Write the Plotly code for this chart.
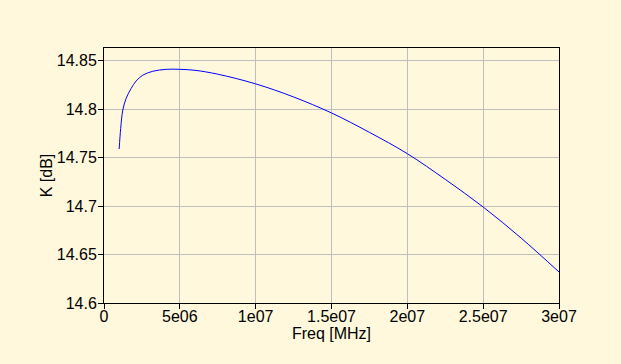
import plotly.graph_objects as go

# Data
freq = [1.0e6, 1.1e6, 1.24e6, 1.46e6, 1.79e6, 2.12e6, 2.56e6, 3.22e6, 4.1e6, 5.0e6,
        6.0e6, 7.5e6, 1.0e7, 1.25e7, 1.5e7, 1.75e7, 2.0e7, 2.25e7, 2.5e7, 2.75e7, 3.0e7]
k_db = [14.7588, 14.780, 14.799, 14.811, 14.8213, 14.829, 14.835, 14.839, 14.841, 14.841,
        14.840, 14.836, 14.826, 14.8125, 14.796, 14.776, 14.754, 14.7275, 14.699, 14.667, 14.632]

x_tickvals = [0, 5e6, 1e7, 1.5e7, 2e7, 2.5e7, 3e7]
x_ticktext = ["0", "5e06", "1e07", "1.5e07", "2e07", "2.5e07", "3e07"]
y_tickvals = [14.6, 14.65, 14.7, 14.75, 14.8, 14.85]
y_ticktext = ["14.6", "14.65", "14.7", "14.75", "14.8", "14.85"]

bg = "#FFF8DC"
font = dict(family="Liberation Sans, Arial, sans-serif", size=16, color="#000000")

fig = go.Figure()
fig.add_trace(go.Scatter(x=freq, y=k_db, mode="lines",
                         line=dict(color="#0000FF", width=1, shape="spline", smoothing=1.0),
                         showlegend=False, hoverinfo="skip"))

fig.update_layout(
    width=621, height=364,
    margin=dict(l=104, r=62, t=48, b=61),
    paper_bgcolor=bg, plot_bgcolor=bg,
    font=font,
    xaxis=dict(
        range=[0, 3e7], tickvals=x_tickvals, ticktext=x_ticktext,
        showgrid=True, gridcolor="#BEBEBE", gridwidth=1, zeroline=False,
        showline=True, linecolor="#000000", linewidth=1, mirror=True,
        ticks="outside", ticklen=5, tickcolor="#000000",
        ticklabelstandoff=-6,
        title=dict(text="Freq [MHz]", standoff=3, font=font),
        tickfont=font,
    ),
    yaxis=dict(
        range=[14.6, 14.863], tickvals=y_tickvals, ticktext=y_ticktext,
        showgrid=True, gridcolor="#BEBEBE", gridwidth=1, zeroline=False,
        showline=True, linecolor="#000000", linewidth=1, mirror=True,
        ticks="outside", ticklen=5, tickcolor="#000000",
        ticklabelstandoff=-2,
        title=dict(text="K [dB]", standoff=0, font=font),
        tickfont=font,
    ),
)

fig.write_html("out.html")
